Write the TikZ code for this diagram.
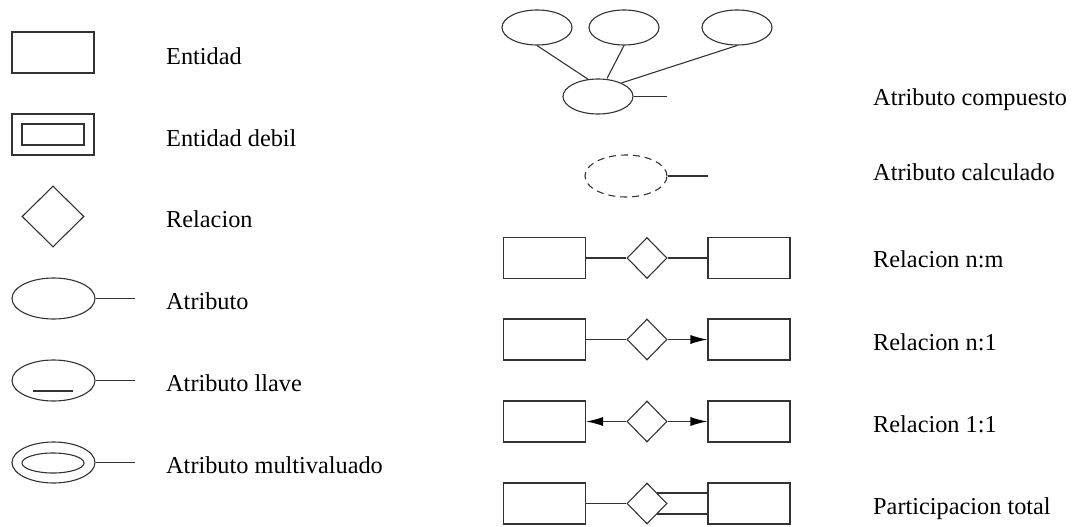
\documentclass[tikz,border=0pt]{standalone}
\usepackage{fontspec}
\setmainfont{Liberation Serif}
\usetikzlibrary{shapes.geometric,arrows.meta,calc}
\tikzset{
  ln/.style={line width=1.1pt, draw=black!80},
  ent/.style={ln, rectangle, minimum width=82pt, minimum height=41pt, inner sep=0pt},
  innerent/.style={ln, rectangle, minimum width=62pt, minimum height=21pt, inner sep=0pt},
  rel/.style={ln, diamond, minimum width=40pt, minimum height=41pt, inner sep=0pt},
  bigrel/.style={ln, diamond, minimum width=62pt, minimum height=61pt, inner sep=0pt},
  attr/.style={ln, ellipse, minimum width=83pt, minimum height=41pt, inner sep=0pt},
  smattr/.style={ln, ellipse, minimum width=70pt, minimum height=35pt, inner sep=0pt},
  inattr/.style={ln, ellipse, minimum width=62pt, minimum height=20pt, inner sep=0pt},
  lbl/.style={anchor=base west, inner sep=0pt, font=\fontsize{24.3pt}{29pt}\selectfont},
  arr/.style={ln, -{Latex[length=17pt,width=9pt,color=black]}},
}
\begin{document}
\begin{tikzpicture}[x=1pt,y=-1pt]
\useasboundingbox (0,0) rectangle (1073,527);

% ---- left column: basic symbols ----
\node[ent] (e) at (53,52.5) {};
\node[lbl] (le) at (166,64) {Entidad};

\node[ent] (w) at (53,134.5) {};
\node[innerent] (wi) at (53,134.5) {};
\node[lbl] (lw) at (166,146) {Entidad debil};

\node[bigrel] (r) at (53,216.5) {};
\node[lbl] (lr) at (166,227) {Relacion};

\node[attr] (a) at (53.5,298.5) {};
\coordinate (ae) at (135,298.5);
\draw[ln] (a.east) -- (ae);
\node[lbl] (la) at (166,309) {Atributo};

\node[attr] (k) at (53.5,380.5) {};
\coordinate (ke) at (135,380.5);
\draw[ln] (k.east) -- (ke);
\coordinate (ku1) at (33,391);
\coordinate (ku2) at (73,391);
\draw[ln] (ku1) -- (ku2);
\node[lbl] (lk) at (166,391) {Atributo llave};

\node[attr] (m) at (53.5,462.5) {};
\node[inattr] (mi) at (53,463) {};
\coordinate (me) at (135,462.5);
\draw[ln] (m.east) -- (me);
\node[lbl] (lm) at (166,473) {Atributo multivaluado};

% ---- right column: composite / derived attributes ----
\node[smattr] (c1) at (537,27.5) {};
\node[smattr] (c2) at (624,27.5) {};
\node[smattr] (c3) at (737,27.5) {};
\node[smattr] (c) at (598,96.5) {};
\draw[ln] (c1.south) -- (c.120);
\draw[ln] (c2.south) -- ($(c.north)+(9,0)$);
\draw[ln] (c3.south) -- (c.30);
\coordinate (ce) at (667,96.5);
\draw[ln] (c.east) -- (ce);
\node[lbl] (lc) at (873,105) {Atributo compuesto};

\node[ln, dashed, dash pattern=on 7pt off 5pt, ellipse, minimum width=82pt, minimum height=42pt, inner sep=0pt] (d) at (626,176) {};
\coordinate (de) at (708,176);
\draw[ln] (d.east) -- (de);
\node[lbl] (ld) at (873,180) {Atributo calculado};

% ---- right column: relationship cardinalities ----
\node[ent] (n1a) at (544.5,258) {};
\node[rel] (n1r) at (647,258) {};
\node[ent] (n1b) at (749,258) {};
\draw[ln] (n1a) -- (n1r);
\draw[ln] (n1r) -- (n1b);
\node[lbl] (ln1) at (873,267) {Relacion n:m};

\node[ent] (n2a) at (544.5,339.5) {};
\node[rel] (n2r) at (647,339.5) {};
\node[ent] (n2b) at (749,339.5) {};
\draw[ln] (n2a) -- (n2r);
\draw[arr] (n2r) -- (n2b);
\node[lbl] (ln2) at (873,350) {Relacion n:1};

\node[ent] (n3a) at (544.5,421.5) {};
\node[rel] (n3r) at (647,421.5) {};
\node[ent] (n3b) at (749,421.5) {};
\draw[arr] (n3r) -- (n3a);
\draw[arr] (n3r) -- (n3b);
\node[lbl] (ln3) at (873,432) {Relacion 1:1};

\node[ent] (n4a) at (544.5,503.5) {};
\node[rel] (n4r) at (647,503.5) {};
\node[ent] (n4b) at (749,503.5) {};
\draw[ln] (n4a) -- (n4r);
\draw[ln] (n4r.center) ++(9.8,-10.5) coordinate (t1) -- (t1 -| n4b.west);
\draw[ln] (n4r.center) ++(9.8,10.5) coordinate (t2) -- (t2 -| n4b.west);
\node[lbl] (ln4) at (873,514) {Participacion total};
\end{tikzpicture}
\end{document}
